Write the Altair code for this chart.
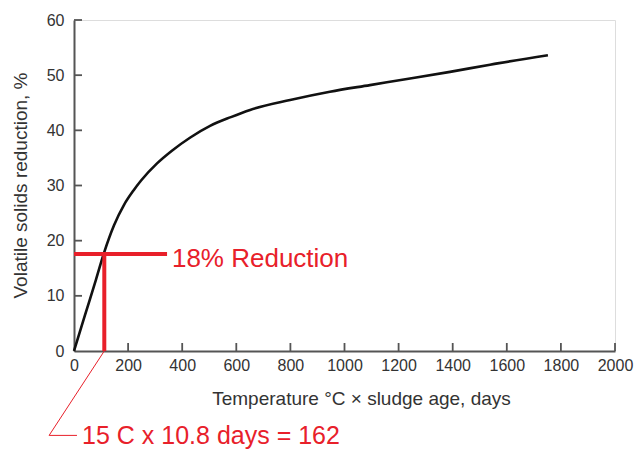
import altair as alt
import pandas as pd

# Curve
curve_x = [0, 40, 81, 111, 148, 185, 220, 248, 307, 362, 430, 503, 580, 651, 799, 946, 1094, 1231, 1390, 1538, 1752]
curve_y = [0, 6.4, 12.9, 17.8, 22.8, 26.5, 29.1, 30.9, 34.0, 36.3, 38.7, 40.8, 42.4, 43.7, 45.5, 47, 48.2, 49.3, 50.6, 51.9, 53.6]

x_ticks = [0, 200, 400, 600, 800, 1000, 1200, 1400, 1600, 1800, 2000]
y_ticks = [0, 10, 20, 30, 40, 50, 60]

# Annotation values
marker_x = 112
marker_y = 17.6
marker_x_end = 344
leader_x = [112, -92, 11]
leader_y = [0, -15.3, -15.3]
label1 = "18% Reduction"
label1_pos = (362, 15.2)
label2 = "15 C x 10.8 days = 162"
label2_pos = (30, -16.9)

RED = "#e8202a"
AXIS = "#555555"
FONT = "Liberation Sans"

W, H = 541, 331

curve_df = pd.DataFrame({"x": curve_x, "y": curve_y})
xscale = alt.Scale(domain=[0, 2000], nice=False, zero=False)
yscale = alt.Scale(domain=[0, 60], nice=False, zero=False)

base_curve = alt.Chart(curve_df).mark_line(
    color="#111111", strokeWidth=2.6, interpolate="monotone"
).encode(
    x=alt.X("x:Q", scale=xscale, axis=alt.Axis(
        values=x_ticks, format="d", labelOverlap=False, labelFlush=False,
        title="Temperature \u00b0C \u00d7 sludge age, days",
        grid=False, tickSize=0, labelPadding=6, labelFontSize=16,
        labelColor="#333333", labelFont=FONT, titleFont=FONT, titleFontSize=19,
        titleFontWeight="normal", titleColor="#333333",
        titleX=287, titleY=47, titleBaseline="middle",
        domainColor=AXIS, domainWidth=2)),
    y=alt.Y("y:Q", scale=yscale, axis=alt.Axis(
        values=y_ticks, format="d", labelOverlap=False, labelFlush=False,
        title="Volatile solids reduction, %",
        grid=False, tickSize=0, labelPadding=10, labelFontSize=16,
        labelColor="#333333", labelFont=FONT, titleFont=FONT, titleFontSize=19,
        titleFontWeight="normal", titleColor="#333333",
        titleX=-54, titleY=165, titleBaseline="middle",
        domainColor=AXIS, domainWidth=2)),
)

# inward ticks
yt = alt.Chart(pd.DataFrame({"v": y_ticks[1:]})).mark_rule(color=AXIS, strokeWidth=1.8).encode(
    y=alt.Y("v:Q", scale=yscale), x=alt.value(0), x2=alt.value(8))
xt = alt.Chart(pd.DataFrame({"v": x_ticks[1:]})).mark_rule(color=AXIS, strokeWidth=1.8).encode(
    x=alt.X("v:Q", scale=xscale), y=alt.value(H), y2=alt.value(H - 8))

vline = alt.Chart(pd.DataFrame({"x": [marker_x], "y": [0], "y2": [marker_y]})).mark_rule(
    color=RED, strokeWidth=4).encode(
    x=alt.X("x:Q", scale=xscale), y=alt.Y("y:Q", scale=yscale), y2="y2:Q")
hline = alt.Chart(pd.DataFrame({"x": [0], "x2": [marker_x_end], "y": [marker_y]})).mark_rule(
    color=RED, strokeWidth=4).encode(
    x=alt.X("x:Q", scale=xscale), x2="x2:Q", y=alt.Y("y:Q", scale=yscale))

leader = alt.Chart(pd.DataFrame({"x": leader_x, "y": leader_y, "o": [0, 1, 2]})).mark_line(
    color=RED, strokeWidth=1, clip=False).encode(
    x=alt.X("x:Q", scale=xscale), y=alt.Y("y:Q", scale=yscale), order="o:O")

t1 = alt.Chart(pd.DataFrame({"x": [label1_pos[0]], "y": [label1_pos[1]], "t": [label1]})).mark_text(
    color=RED, fontSize=26, font=FONT, align="left", baseline="alphabetic").encode(
    x=alt.X("x:Q", scale=xscale), y=alt.Y("y:Q", scale=yscale), text="t:N")
t2 = alt.Chart(pd.DataFrame({"x": [label2_pos[0]], "y": [label2_pos[1]], "t": [label2]})).mark_text(
    color=RED, fontSize=25, font=FONT, align="left", baseline="alphabetic").encode(
    x=alt.X("x:Q", scale=xscale), y=alt.Y("y:Q", scale=yscale), text="t:N")

chart = alt.layer(base_curve, yt, xt, vline, hline, leader, t1, t2).properties(
    width=W, height=H,
    autosize=alt.AutoSizeParams(type="none"),
    padding={"left": 66, "top": 12, "right": 21, "bottom": 99},
).configure_view(stroke=None).configure(background="white")

chart.save("out.html", embed_options={"renderer": "svg", "actions": False})
